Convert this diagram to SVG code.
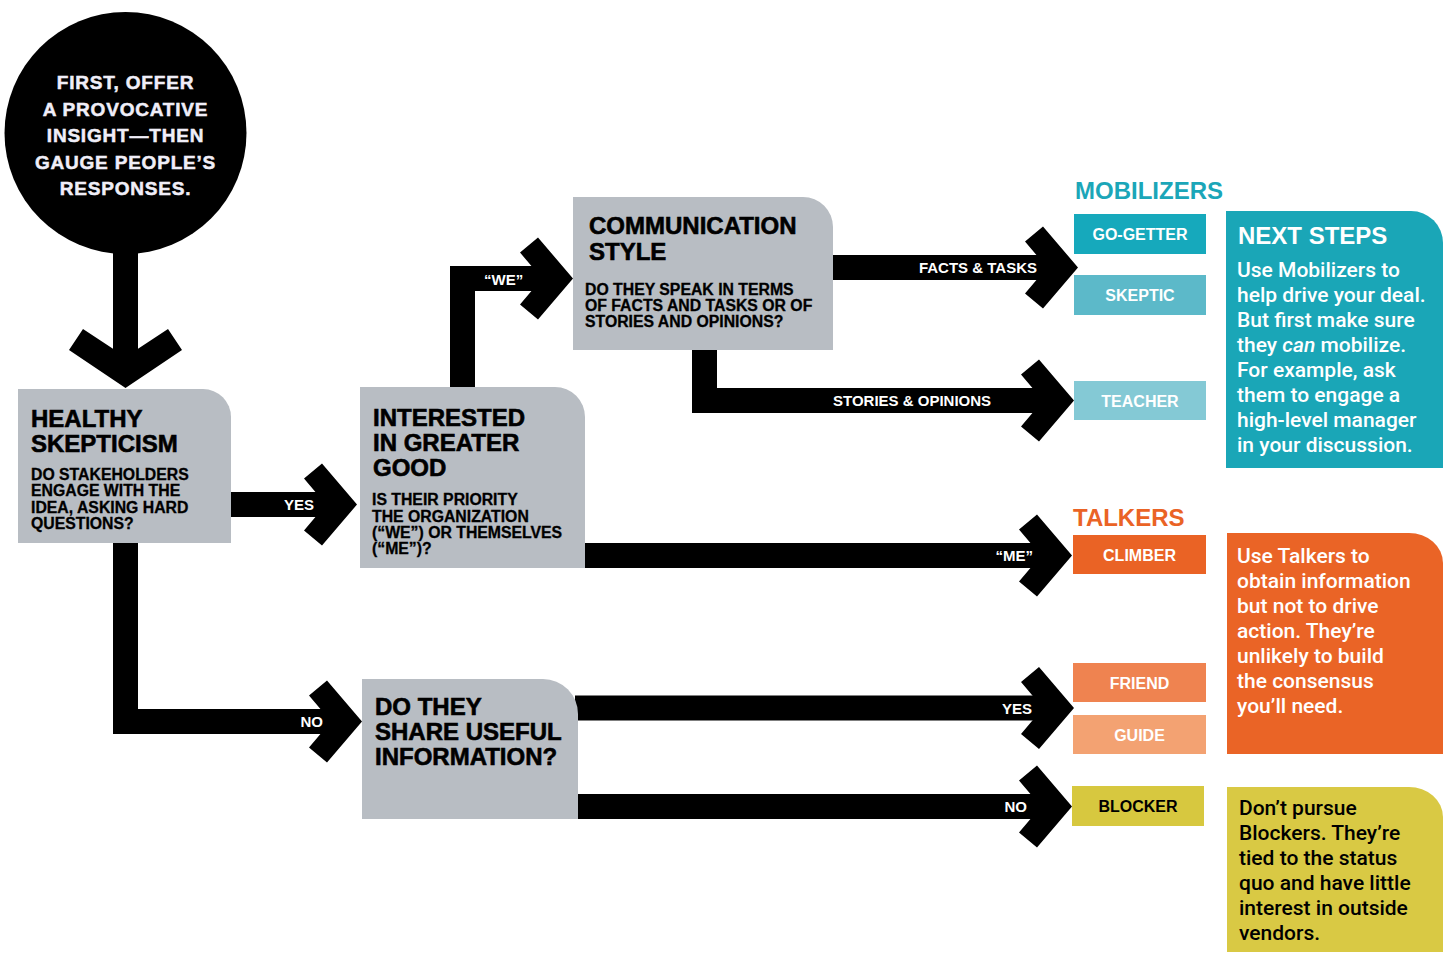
<svg xmlns="http://www.w3.org/2000/svg" xmlns:xlink="http://www.w3.org/1999/xlink" width="1456" height="963" viewBox="0 0 1456 963">
<style>
.t{font-family:"Liberation Sans",Arial,sans-serif;font-weight:700}
.h{font-size:24px;fill:#000;stroke:#000;stroke-width:0.6}
.s{font-size:15.8px;fill:#000;stroke:#000;stroke-width:0.3}
.lbl{font-size:15px;fill:#fff}
.lr{text-anchor:end}
.cat{font-size:24px}
.tag{font-size:16px;fill:#fff;text-anchor:middle}
.body{font-family:Roboto,"Liberation Sans",sans-serif;font-weight:500;font-size:21px}
.box{fill:#b8bdc3}
.stem{fill:none;stroke:#000;stroke-width:25;stroke-linejoin:miter}
</style>
<defs>
<polygon id="ah" points="0,0 -35,-41 -53,-26 -31,0 -53,26 -35,41" fill="#000"/>
</defs>
<rect width="1456" height="963" fill="#fff"/>

<g id="connectors">
<path class="stem" d="M125.5,250 V370"/>
<polygon points="125.5,388 69,350 83,329 125.5,357 168,329 182,350" fill="#000"/>
<path class="stem" d="M231,504.5 H337"/>
<use xlink:href="#ah" href="#ah" transform="translate(357,504.5)"/>
<path class="stem" d="M125.5,543 V721.5 H342"/>
<use xlink:href="#ah" href="#ah" transform="translate(362,721.5)"/>
<path class="stem" d="M462.5,388 V278.5 H553"/>
<use xlink:href="#ah" href="#ah" transform="translate(573,278.5)"/>
<path class="stem" d="M585,555.5 H1052"/>
<use xlink:href="#ah" href="#ah" transform="translate(1072,555.5)"/>
<path class="stem" d="M833,267.5 H1058"/>
<use xlink:href="#ah" href="#ah" transform="translate(1078,267.5)"/>
<path class="stem" d="M704.5,350 V400.5 H1054"/>
<use xlink:href="#ah" href="#ah" transform="translate(1074,400.5)"/>
<path class="stem" d="M575,708 H1054"/>
<use xlink:href="#ah" href="#ah" transform="translate(1074,708)"/>
<path class="stem" d="M575,806.5 H1052"/>
<use xlink:href="#ah" href="#ah" transform="translate(1072,806.5)"/>
<text class="t lbl lr" x="314" y="510">YES</text>
<text class="t lbl lr" x="323" y="727">NO</text>
<text class="t lbl" x="484" y="285" font-size="17">“WE”</text>
<text class="t lbl lr" x="1033" y="561">“ME”</text>
<text class="t lbl lr" x="1037" y="273">FACTS &amp; TASKS</text>
<text class="t lbl" x="833" y="406">STORIES &amp; OPINIONS</text>
<text class="t lbl lr" x="1032" y="714">YES</text>
<text class="t lbl lr" x="1027" y="812">NO</text>
</g>

<g id="start">
<circle cx="125.5" cy="133" r="121" fill="#000"/>
<g class="t" font-size="19" fill="#f0eef8" stroke="#f0eef8" stroke-width="0.5" text-anchor="middle" letter-spacing="0.8">
<text x="125.5" y="89">FIRST, OFFER</text>
<text x="125.5" y="116">A PROVOCATIVE</text>
<text x="125.5" y="142">INSIGHT—THEN</text>
<text x="125.5" y="169">GAUGE PEOPLE’S</text>
<text x="125.5" y="195">RESPONSES.</text>
</g>
</g>

<g id="healthy-skepticism">
<path class="box" d="M18,389 H203 A28,28 0 0 1 231,417 V543 H18 Z"/>
<text class="t h" x="31" y="427">HEALTHY</text>
<text class="t h" x="31" y="452">SKEPTICISM</text>
<text class="t s" x="31" y="480">DO STAKEHOLDERS</text>
<text class="t s" x="31" y="496">ENGAGE WITH THE</text>
<text class="t s" x="31" y="513">IDEA, ASKING HARD</text>
<text class="t s" x="31" y="529">QUESTIONS?</text>
</g>

<g id="interested">
<path class="box" d="M360,387 H555 A30,30 0 0 1 585,417 V568 H360 Z"/>
<text class="t h" x="373" y="426">INTERESTED</text>
<text class="t h" x="373" y="451">IN GREATER</text>
<text class="t h" x="373" y="476">GOOD</text>
<text class="t s" x="372" y="505">IS THEIR PRIORITY</text>
<text class="t s" x="372" y="522">THE ORGANIZATION</text>
<text class="t s" x="372" y="538">(“WE”) OR THEMSELVES</text>
<text class="t s" x="372" y="554">(“ME”)?</text>
</g>

<g id="communication-style">
<path class="box" d="M573,197 H803 A30,30 0 0 1 833,227 V350 H573 Z"/>
<text class="t h" x="589" y="234">COMMUNICATION</text>
<text class="t h" x="589" y="260">STYLE</text>
<text class="t s" x="585" y="295">DO THEY SPEAK IN TERMS</text>
<text class="t s" x="585" y="311">OF FACTS AND TASKS OR OF</text>
<text class="t s" x="585" y="327">STORIES AND OPINIONS?</text>
</g>

<g id="share-info">
<path class="box" d="M362,679 H543 A35,35 0 0 1 578,714 V819 H362 Z"/>
<text class="t h" x="375" y="715">DO THEY</text>
<text class="t h" x="375" y="740">SHARE USEFUL</text>
<text class="t h" x="375" y="765">INFORMATION?</text>
</g>

<g id="mobilizers">
<text class="t cat" x="1075" y="199" fill="#1ba6b8">MOBILIZERS</text>
<rect x="1074" y="214" width="132" height="40" fill="#16a9bc"/>
<text class="t tag" x="1140" y="240">GO-GETTER</text>
<rect x="1074" y="275" width="132" height="40" fill="#5cb9c9"/>
<text class="t tag" x="1140" y="301">SKEPTIC</text>
<rect x="1074" y="381" width="132" height="39" fill="#84c9d5"/>
<text class="t tag" x="1140" y="407">TEACHER</text>
</g>

<g id="next-steps">
<path d="M1226,211 H1411 A32,32 0 0 1 1443,243 V468 H1226 Z" fill="#1aa6b7"/>
<text class="t cat" x="1238" y="244" fill="#fff">NEXT STEPS</text>
<g class="body" fill="#fff">
<text x="1237" y="277">Use Mobilizers to</text>
<text x="1237" y="302">help drive your deal.</text>
<text x="1237" y="327">But first make sure</text>
<text x="1237" y="352">they <tspan font-style="italic">can</tspan> mobilize.</text>
<text x="1237" y="377">For example, ask</text>
<text x="1237" y="402">them to engage a</text>
<text x="1237" y="427">high-level manager</text>
<text x="1237" y="452">in your discussion.</text>
</g>
</g>

<g id="talkers">
<text class="t cat" x="1073" y="526" fill="#ea6325">TALKERS</text>
<rect x="1073" y="535" width="133" height="39" fill="#ea6325"/>
<text class="t tag" x="1139.5" y="561">CLIMBER</text>
<rect x="1073" y="663" width="133" height="39" fill="#ef8350"/>
<text class="t tag" x="1139.5" y="689">FRIEND</text>
<rect x="1073" y="715" width="133" height="39" fill="#f3a272"/>
<text class="t tag" x="1139.5" y="741">GUIDE</text>
</g>

<g id="talkers-note">
<path d="M1227,533 H1409 A34,30 0 0 1 1443,563 V754 H1227 Z" fill="#ea6426"/>
<g class="body" fill="#fff">
<text x="1237" y="563">Use Talkers to</text>
<text x="1237" y="588">obtain information</text>
<text x="1237" y="613">but not to drive</text>
<text x="1237" y="638">action. They’re</text>
<text x="1237" y="663">unlikely to build</text>
<text x="1237" y="688">the consensus</text>
<text x="1237" y="713">you’ll need.</text>
</g>
</g>

<g id="blocker">
<rect x="1072" y="786" width="132" height="40" fill="#d7c83f"/>
<text class="t tag" x="1138" y="812" style="fill:#000">BLOCKER</text>
</g>

<g id="blocker-note">
<path d="M1227,787 H1409 A34,30 0 0 1 1443,817 V952 H1227 Z" fill="#d9c944"/>
<g class="body" fill="#000">
<text x="1239" y="815">Don’t pursue</text>
<text x="1239" y="840">Blockers. They’re</text>
<text x="1239" y="865">tied to the status</text>
<text x="1239" y="890">quo and have little</text>
<text x="1239" y="915">interest in outside</text>
<text x="1239" y="940">vendors.</text>
</g>
</g>
</svg>
